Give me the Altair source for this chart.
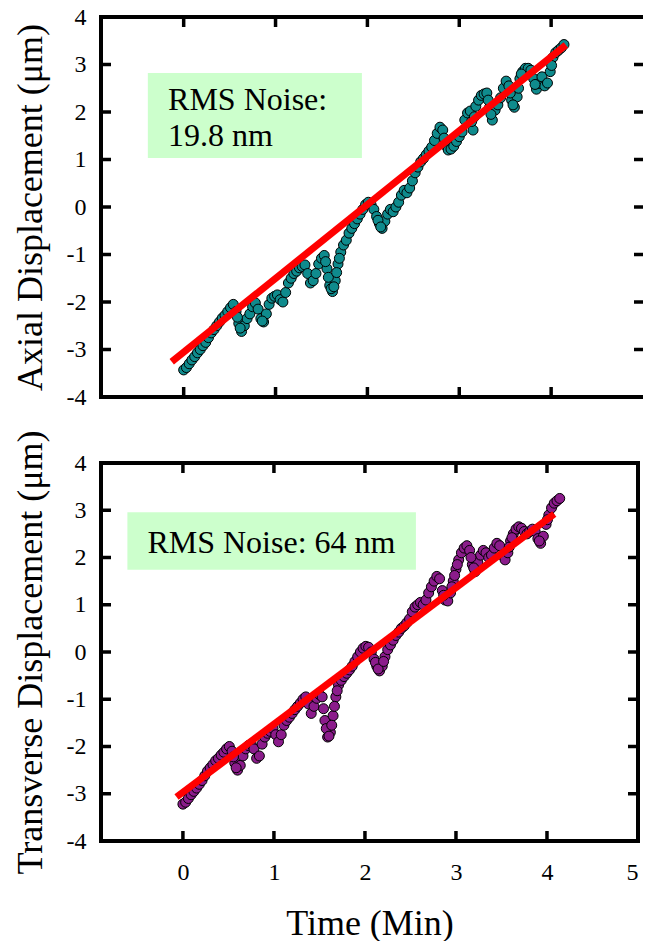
import altair as alt
import pandas as pd

# ---------------- data ----------------
time_axial = [0.00, 0.03, 0.06, 0.09, 0.12, 0.15, 0.18, 0.21, 0.24, 0.27, 0.30, 0.33, 0.36, 0.39, 0.42,
              0.45, 0.48, 0.51, 0.54, 0.57, 0.60, 0.63, 0.66, 0.69, 0.72, 0.75, 0.78, 0.81, 0.84, 0.87,
              0.90, 0.93, 0.96, 0.99, 1.02, 1.05, 1.08, 1.11, 1.14, 1.17, 1.20, 1.23, 1.26, 1.29, 1.32,
              1.35, 1.38, 1.41, 1.44, 1.47, 1.50, 1.53, 1.56, 1.59, 1.62, 1.65, 1.68, 1.71, 1.74, 1.77,
              1.80, 1.83, 1.86, 1.89, 1.92, 1.95, 1.98, 2.01, 2.04, 2.07, 2.10, 2.13, 2.16, 2.19, 2.22,
              2.25, 2.28, 2.31, 2.34, 2.37, 2.40, 2.43, 2.46, 2.49, 2.52, 2.55, 2.58, 2.61, 2.64, 2.67,
              2.70, 2.73, 2.76, 2.79, 2.82, 2.85, 2.88, 2.91, 2.94, 2.97, 3.00, 3.03, 3.06, 3.09, 3.12,
              3.15, 3.18, 3.21, 3.24, 3.27, 3.30, 3.33, 3.36, 3.39, 3.42, 3.45, 3.48, 3.51, 3.54, 3.57,
              3.60, 3.63, 3.66, 3.69, 3.72, 3.75, 3.78, 3.81, 3.84, 3.87, 3.90, 3.93, 3.96, 3.99, 4.02,
              4.05, 4.08, 4.11, 4.14,
              # extra readings where the reference chain is steep
              0.585, 0.615, 0.855, 1.545, 1.575, 1.605, 1.635, 1.665, 1.695, 2.115, 2.145, 2.835,
              3.135, 3.165, 3.315, 3.345, 3.555, 3.585, 3.645, 3.675, 3.825, 4.005]
disp_axial = [-3.43, -3.38, -3.30, -3.22, -3.15, -3.07, -3.00, -2.92, -2.85, -2.75, -2.65, -2.58, -2.50, -2.42, -2.34,
              -2.28, -2.20, -2.12, -2.05, -2.20, -2.45, -2.62, -2.50, -2.35, -2.25, -2.10, -2.02, -2.15, -2.35, -2.42,
              -2.25, -2.05, -1.92, -1.88, -1.85, -1.95, -2.00, -1.80, -1.60, -1.50, -1.40, -1.35, -1.28, -1.25, -1.22,
              -1.40, -1.60, -1.55, -1.40, -1.20, -1.08, -1.02, -1.30, -1.65, -1.78, -1.55, -1.20, -0.95, -0.80, -0.70,
              -0.55, -0.45, -0.35, -0.25, -0.15, -0.05, 0.05, 0.10, 0.05, -0.05, -0.20, -0.35, -0.45, -0.30, -0.15,
              -0.05, -0.10, 0.00, 0.10, 0.25, 0.35, 0.30, 0.40, 0.55, 0.72, 0.84, 0.95, 1.02, 1.10, 1.18,
              1.26, 1.40, 1.55, 1.68, 1.62, 1.30, 1.20, 1.22, 1.28, 1.38, 1.48, 1.58, 1.83, 1.98, 2.02,
              1.62, 2.12, 2.25, 2.35, 2.38, 2.40, 2.10, 1.83, 2.04, 2.15, 2.30, 2.50, 2.65, 2.55, 2.25,
              2.10, 2.32, 2.70, 2.85, 2.92, 2.92, 2.88, 2.70, 2.48, 2.60, 2.74, 2.55, 2.61, 2.85, 3.15,
              3.25, 3.30, 3.35, 3.42,
              -2.32, -2.55, -2.40, -1.15, -1.48, -1.72, -1.68, -1.38, -1.08, -0.28, -0.42, 1.45,
              1.80, 1.90, 2.25, 1.95, 2.40, 2.15, 2.50, 2.80, 2.58, 2.98]

time_trans = [0.00, 0.03, 0.06, 0.09, 0.12, 0.15, 0.18, 0.21, 0.24, 0.27, 0.30, 0.33, 0.36, 0.39, 0.42,
              0.45, 0.48, 0.51, 0.54, 0.57, 0.60, 0.63, 0.66, 0.69, 0.72, 0.75, 0.78, 0.81, 0.84, 0.87,
              0.90, 0.93, 0.96, 0.99, 1.02, 1.05, 1.08, 1.11, 1.14, 1.17, 1.20, 1.23, 1.26, 1.29, 1.32,
              1.35, 1.38, 1.41, 1.44, 1.47, 1.50, 1.53, 1.56, 1.59, 1.62, 1.65, 1.68, 1.71, 1.74, 1.77,
              1.80, 1.83, 1.86, 1.89, 1.92, 1.95, 1.98, 2.01, 2.04, 2.07, 2.10, 2.13, 2.16, 2.19, 2.22,
              2.25, 2.28, 2.31, 2.34, 2.37, 2.40, 2.43, 2.46, 2.49, 2.52, 2.55, 2.58, 2.61, 2.64, 2.67,
              2.70, 2.73, 2.76, 2.79, 2.82, 2.85, 2.88, 2.91, 2.94, 2.97, 3.00, 3.03, 3.06, 3.09, 3.12,
              3.15, 3.18, 3.21, 3.24, 3.27, 3.30, 3.33, 3.36, 3.39, 3.42, 3.45, 3.48, 3.51, 3.54, 3.57,
              3.60, 3.63, 3.66, 3.69, 3.72, 3.75, 3.78, 3.81, 3.84, 3.87, 3.90, 3.93, 3.96, 3.99, 4.02,
              4.05, 4.08, 4.11, 4.14,
              0.555, 0.585, 1.545, 1.575, 1.605, 1.635, 1.665, 1.695, 2.115, 2.145, 2.205, 2.865,
              2.955, 2.985, 3.015, 3.165, 3.195, 3.585, 3.615, 3.915, 4.005]
disp_trans = [-3.22, -3.18, -3.10, -3.02, -2.95, -2.88, -2.80, -2.72, -2.62, -2.52, -2.45, -2.38, -2.30, -2.25, -2.18,
              -2.12, -2.05, -2.00, -2.10, -2.35, -2.50, -2.40, -2.20, -2.05, -1.98, -1.95, -2.05, -2.25, -2.20, -1.95,
              -1.80, -1.72, -1.68, -1.62, -1.75, -1.90, -1.75, -1.55, -1.45, -1.38, -1.30, -1.22, -1.15, -1.08, -1.00,
              -0.95, -1.10, -1.30, -1.15, -0.98, -0.90, -0.95, -1.45, -1.80, -1.70, -1.35, -0.95, -0.70, -0.60, -0.52,
              -0.45, -0.38, -0.30, -0.20, -0.10, 0.00, 0.08, 0.12, 0.10, 0.00, -0.15, -0.30, -0.40, -0.30, -0.10,
              0.05, 0.15, 0.25, 0.35, 0.42, 0.50, 0.55, 0.62, 0.70, 0.85, 0.95, 1.00, 1.05, 1.00, 1.10,
              1.25, 1.38, 1.50, 1.60, 1.55, 1.30, 1.10, 1.08, 1.25, 1.50, 1.75, 1.95, 2.10, 2.20, 2.25,
              2.15, 1.85, 1.70, 1.90, 2.05, 2.15, 2.10, 2.00, 2.05, 2.20, 2.30, 2.25, 2.05, 1.95, 2.10,
              2.35, 2.50, 2.60, 2.65, 2.62, 2.55, 2.50, 2.55, 2.60, 2.55, 2.40, 2.30, 2.45, 2.70, 2.90,
              3.05, 3.15, 3.20, 3.25,
              -2.22, -2.45, -1.20, -1.62, -1.78, -1.55, -1.15, -0.82, -0.22, -0.36, -0.20, 1.20,
              1.38, 1.62, 1.85, 2.00, 1.78, 2.22, 2.42, 2.35, 2.80]

fit_axial_t = [-0.13, 4.16]
fit_axial_y = [-3.26, 3.41]
fit_trans_t = [-0.07, 4.08]
fit_trans_y = [-3.07, 2.92]

y_labels = [-4, -3, -2, -1, 0, 1, 2, 3, 4]
y_inner_ticks = [-3, -2, -1, 0, 1, 2, 3]
x_inner_ticks = [0, 1, 2, 3, 4]
x_labels = [0, 1, 2, 3, 4, 5]

axial_box = {"t": [-0.39], "t2": [1.94], "y": [2.82], "y2": [1.03]}
axial_text = {"t": [-0.17, -0.17], "y": [2.04, 1.28], "label": ["RMS Noise:", "19.8 nm"]}
trans_box = {"t": [-0.61], "t2": [2.56], "y": [2.96], "y2": [1.74]}
trans_text = {"t": [-0.39], "y": [2.10], "label": ["RMS Noise: 64 nm"]}

# ---------------- style ----------------
FONT = "Liberation Serif"
XDOM = [-0.9, 5]
YDOM = [-4, 4]
TICK = 10
FRAME_W = 4
LABEL_EXPR = "'' + datum.value"


def panel(t, y, ft, fy, color, ytitle, width, height, show_x, box, txt, right_border):
    xs = alt.Scale(domain=XDOM, nice=False, zero=False)
    ys = alt.Scale(domain=YDOM, nice=False, zero=False)
    if show_x:
        xaxis = alt.Axis(values=x_labels, title="Time (Min)", labelPadding=19,
                         titlePadding=22, labelExpr=LABEL_EXPR)
    else:
        xaxis = None
    yaxis = alt.Axis(values=y_labels, title=ytitle, labelPadding=15, titlePadding=17,
                     labelExpr=LABEL_EXPR)

    def X(field=None, datum=None):
        if datum is not None:
            return alt.X(datum=datum, scale=xs, axis=xaxis)
        return alt.X(field, type="quantitative", scale=xs, axis=xaxis)

    def Y(field=None, datum=None):
        if datum is not None:
            return alt.Y(datum=datum, scale=ys, axis=yaxis)
        return alt.Y(field, type="quantitative", scale=ys, axis=yaxis)

    rect = alt.Chart(pd.DataFrame(box)).mark_rect(color="#CCFFCC").encode(
        x=X("t"), x2="t2", y=Y("y"), y2="y2")
    text = alt.Chart(pd.DataFrame(txt)).mark_text(
        font=FONT, fontSize=32, align="left", baseline="alphabetic", color="black"
    ).encode(x=X("t"), y=Y("y"), text="label:N")
    pts = alt.Chart(pd.DataFrame({"t": t, "y": y})).mark_point(
        shape="circle", filled=True, fill=color, stroke="black", strokeWidth=1,
        size=100, opacity=1, fillOpacity=1
    ).encode(x=X("t"), y=Y("y"))
    fit = alt.Chart(pd.DataFrame({"t": ft, "y": fy})).mark_line(
        color="#FF0000", strokeWidth=7, strokeCap="butt"
    ).encode(x=X("t"), y=Y("y"))

    frame_parts = [
        alt.Chart().mark_rule(color="black", strokeWidth=FRAME_W, strokeCap="square").encode(
            x=X(datum=XDOM[0]), y=Y(datum=YDOM[0]), y2=alt.datum(YDOM[1])),
        alt.Chart().mark_rule(color="black", strokeWidth=FRAME_W, strokeCap="butt").encode(
            y=Y(datum=YDOM[1]), x=X(datum=XDOM[0]), x2=alt.datum(XDOM[1])),
        alt.Chart().mark_rule(color="black", strokeWidth=FRAME_W, strokeCap="butt").encode(
            y=Y(datum=YDOM[0]), x=X(datum=XDOM[0]), x2=alt.datum(XDOM[1])),
    ]
    if right_border:
        frame_parts.append(
            alt.Chart().mark_rule(color="black", strokeWidth=FRAME_W, strokeCap="square").encode(
                x=X(datum=XDOM[1]), y=Y(datum=YDOM[0]), y2=alt.datum(YDOM[1])))

    ydf = pd.DataFrame({"v": y_inner_ticks})
    xdf = pd.DataFrame({"t": x_inner_ticks})
    tick_style = dict(color="black", strokeWidth=3.5, strokeCap="butt")
    ticks = [
        alt.Chart(ydf).mark_rule(**tick_style).encode(
            y=Y("v"), x=alt.value(0), x2=alt.value(TICK)),
        alt.Chart(ydf).mark_rule(**tick_style).encode(
            y=Y("v"), x=alt.value(width - TICK + (0 if right_border else 1)), x2=alt.value(width)),
        alt.Chart(xdf).mark_rule(**tick_style).encode(
            x=X("t"), y=alt.value(0), y2=alt.value(TICK)),
        alt.Chart(xdf).mark_rule(**tick_style).encode(
            x=X("t"), y=alt.value(height - TICK), y2=alt.value(height)),
    ]
    return alt.layer(rect, text, pts, fit, *frame_parts, *ticks).properties(
        width=width, height=height)


top = panel(time_axial, disp_axial, fit_axial_t, fit_axial_y, "#0F8B8D",
            "Axial Displacement (\u03bcm)", 542, 380, False, axial_box, axial_text, False)
bottom = panel(time_trans, disp_trans, fit_trans_t, fit_trans_y, "#8B1C8B",
               "Transverse Displacement (\u03bcm)", 537, 378, True, trans_box, trans_text, True)

chart = alt.vconcat(top, bottom, spacing=66, bounds="flush").properties(
    padding={"top": 5, "left": 12, "right": 0, "bottom": 0},
    background="white",
).configure_view(stroke=None).configure_axis(
    labelFont=FONT, labelFontSize=24, labelColor="black",
    titleFont=FONT, titleFontSize=36, titleFontWeight="normal", titleColor="black",
    domain=False, ticks=False, tickSize=0, grid=False,
)

chart.save("out.html", embed_options={"renderer": "svg", "actions": False})
